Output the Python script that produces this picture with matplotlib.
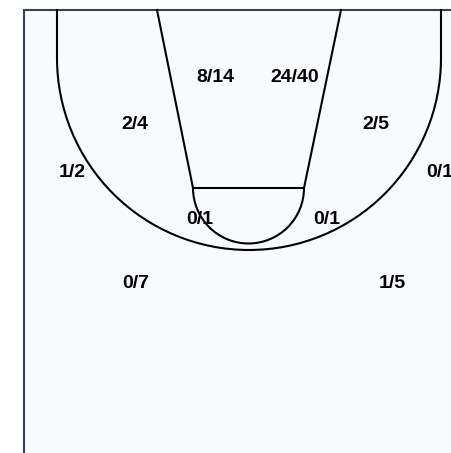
import matplotlib
matplotlib.use("Agg")
import matplotlib.pyplot as plt
import numpy as np
from matplotlib.patches import Rectangle, Arc

# ---- data ----
zones = ["Paint L", "Paint R", "Mid L", "Mid R", "Long L", "Long R",
         "Short L", "Short R", "Three L", "Three R"]
made = [8, 24, 2, 2, 1, 0, 0, 0, 0, 1]
attempts = [14, 40, 4, 5, 2, 1, 1, 1, 7, 5]

# label positions (pixel coordinates of the court drawing; y = baseline)
label_x = [215.5, 294.7, 135.3, 375.8, 72.3, 439.5, 199.3, 327, 136, 392]
label_y = [81.7, 81.7, 129.3, 129.3, 177.3, 176.7, 224, 224, 288, 288]

W, H = 451, 453
fig = plt.figure(figsize=(W / 100, H / 100), dpi=100)
fig.patch.set_facecolor("white")
ax = fig.add_axes([0, 0, 1, 1])
ax.set_xlim(0, W)
ax.set_ylim(H, 0)
ax.axis("off")

# frame
ax.add_patch(Rectangle((23.5, 10), 500, 500, facecolor="#f9fafb",
                       edgecolor="#374151", linewidth=1.5, zorder=0))

lc = "black"
lw = 1.5
# three-point line
cx, cy, r = 249, 58, 192
ax.plot([cx - r, cx - r], [10, cy], color=lc, lw=lw)
ax.plot([cx + r, cx + r], [10, cy], color=lc, lw=lw)
ax.add_patch(Arc((cx, cy), 2 * r, 2 * r, theta1=0, theta2=180,
                 color=lc, lw=lw))

# lane
ax.plot([157, 193], [10, 188], color=lc, lw=lw)
ax.plot([341, 304], [10, 188], color=lc, lw=lw)
ax.plot([193, 304], [188, 188], color=lc, lw=lw)
ax.add_patch(Arc((248.5, 188), 111, 111, theta1=0, theta2=180,
                 color=lc, lw=lw))

for m, a, x, y in zip(made, attempts, label_x, label_y):
    ax.text(x, y, f"{m}/{a}", ha="center", va="baseline",
            fontsize=14, fontweight="bold", family="Liberation Sans",
            color="black", zorder=5)

fig.savefig("out.png", dpi=100, facecolor="white")
